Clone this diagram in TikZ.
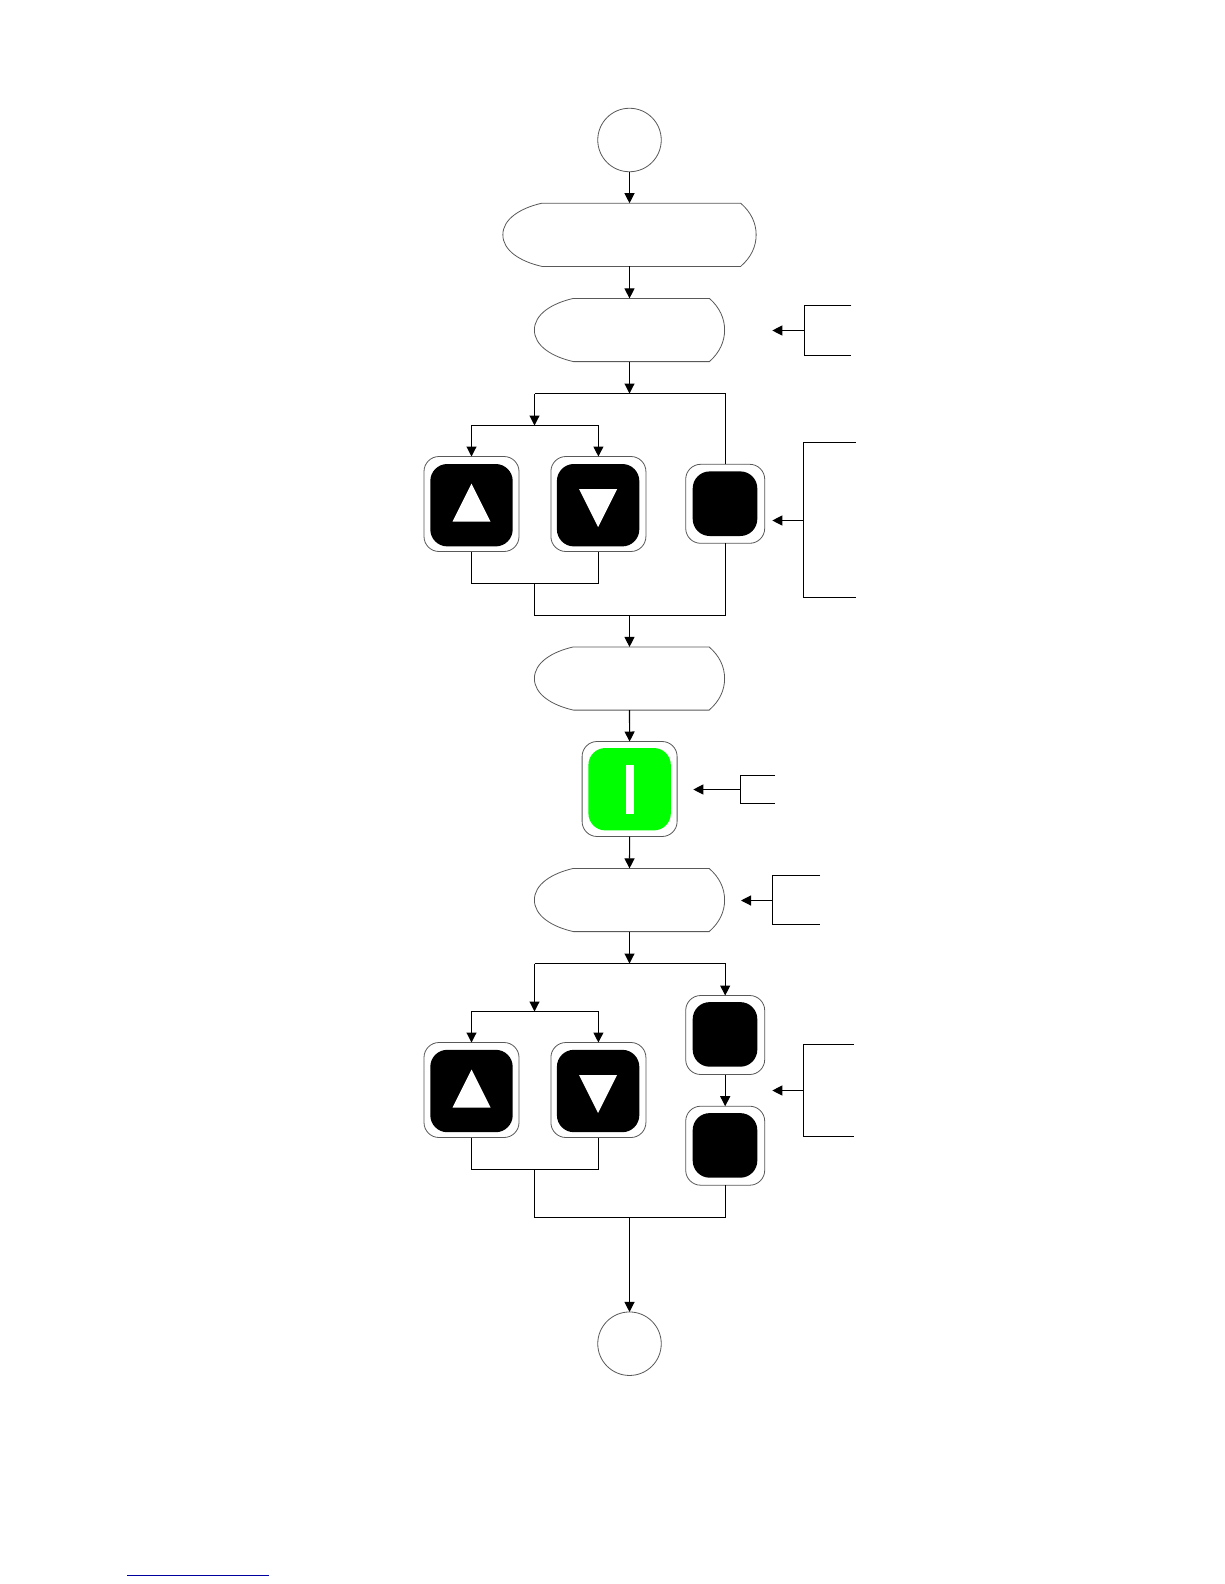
\documentclass[tikz,border=0pt]{standalone}
\usetikzlibrary{arrows.meta}
\tikzset{
  thin outline/.style={draw=black!65,line width=0.8pt},
  termnode/.style={circle,thin outline,fill=white,minimum size=63.5pt,inner sep=0pt,outer sep=0pt},
  dispbox/.style={rectangle,inner sep=0pt,outer sep=0pt,minimum height=63.2pt},
  dispoutline/.style={thin outline,fill=white},
  bigouter/.style={rectangle,rounded corners=15pt,thin outline,fill=white,minimum size=95pt,inner sep=0pt,outer sep=0pt},
  biginner/.style={rectangle,rounded corners=17pt,fill=black,minimum size=82.4pt,inner sep=0pt,outer sep=0pt},
  greeninner/.style={biginner,fill=green!100!black},
  smallouter/.style={rectangle,rounded corners=15pt,thin outline,fill=white,minimum size=79pt,inner sep=0pt,outer sep=0pt},
  smallinner/.style={rectangle,rounded corners=17pt,fill=black,minimum size=64.6pt,inner sep=0pt,outer sep=0pt},
  conn/.style={draw=black,line width=1.1pt},
  flow/.style={conn,-{Triangle[width=10pt,length=10pt]}},
  glyph/.style={fill=white,draw=none}
}
% outline of a display shape over its named box: #1 name, #2 left inset of shoulder, #3 right inset of shoulder
\newcommand{\dispoutlineof}[3]{%
  \path[dispoutline]
    ([xshift=#2pt]#1.north west) -- ([xshift=-#3pt]#1.north east)
    .. controls ([xshift=-5pt,yshift=-9pt]#1.north east) and ([yshift=-20pt]#1.north east) .. (#1.east)
    .. controls ([yshift=20pt]#1.south east) and ([xshift=-5pt,yshift=9pt]#1.south east) .. ([xshift=-#3pt]#1.south east)
    -- ([xshift=#2pt]#1.south west)
    .. controls ([xshift=17pt,yshift=5pt]#1.south west) and ([yshift=16pt]#1.south west) .. (#1.west)
    .. controls ([yshift=-16pt]#1.north west) and ([xshift=17pt,yshift=-5pt]#1.north west) .. ([xshift=#2pt]#1.north west)
    -- cycle;}
\newcommand{\uptri}[1]{\fill[glyph] ([yshift=21.5pt]#1.center) -- ([xshift=19pt,yshift=-16.5pt]#1.center) -- ([xshift=-19pt,yshift=-16.5pt]#1.center) -- cycle;}
\newcommand{\downtri}[1]{\fill[glyph] ([yshift=-22pt]#1.center) -- ([xshift=19pt,yshift=16pt]#1.center) -- ([xshift=-19pt,yshift=16pt]#1.center) -- cycle;}
\begin{document}
\begin{tikzpicture}[x=1pt,y=-1pt]
\useasboundingbox (0,0) rectangle (1224,1584);
\fill[white] (0,0) rectangle (1224,1584);

% terminators
\node[termnode] (start) at (629.5,140) {};
\node[termnode] (stop) at (629.5,1343.7) {};

% display shapes
\node[dispbox,minimum width=253.3pt] (d1) at (629.5,234.8) {};
\node[dispbox,minimum width=190.2pt] (d2) at (629.5,330) {};
\node[dispbox,minimum width=190.2pt] (d3) at (629.5,678.5) {};
\node[dispbox,minimum width=190.2pt] (d4) at (629.5,900) {};
\dispoutlineof{d1}{39}{15.5}
\dispoutlineof{d2}{39}{15.2}
\dispoutlineof{d3}{39}{15.5}
\dispoutlineof{d4}{39}{15.5}

% first key group
\node[bigouter] (up1) at (471.5,504) {};
\node[biginner] (up1i) at (471.5,505.2) {};
\uptri{up1i}
\node[bigouter] (dn1) at (598.4,504) {};
\node[biginner] (dn1i) at (598.1,505.2) {};
\downtri{dn1i}
\node[smallouter] (k1) at (725.2,503.8) {};
\node[smallinner] (k1i) at (725,503.7) {};

% green key
\node[bigouter] (go) at (629.6,789) {};
\node[greeninner] (goi) at (629.6,789.2) {};
\fill[glyph] (626,765) rectangle (634.3,814);

% second key group
\node[bigouter] (up2) at (471.5,1090) {};
\node[biginner] (up2i) at (471.5,1091) {};
\uptri{up2i}
\node[bigouter] (dn2) at (598.4,1090) {};
\node[biginner] (dn2i) at (598.1,1091) {};
\downtri{dn2i}
\node[smallouter] (k2) at (725.2,1035) {};
\node[smallinner] (k2i) at (725,1034.4) {};
\node[smallouter] (k3) at (725.2,1145.7) {};
\node[smallinner] (k3i) at (725,1145.4) {};

% junctions
\coordinate (j1) at (629.5,393.5);
\coordinate (j1l) at (534.5,393.5);
\coordinate (j2) at (534.5,425.5);
\coordinate (m1) at (534.5,583.5);
\coordinate (m2l) at (534.5,615.5);
\coordinate (m2) at (629.5,615.5);
\coordinate (j3) at (629.5,963.5);
\coordinate (j3l) at (534.5,963.5);
\coordinate (j4) at (534.5,1011.5);
\coordinate (m3) at (534.5,1169.5);
\coordinate (m4l) at (534.5,1217.5);
\coordinate (m4) at (629.5,1217.5);

% connectors, top part
\draw[flow] (start.south) -- (d1.north);
\draw[flow] (d1.south) -- (d2.north);
\draw[flow] (d2.south) -- (j1);
\draw[conn] (k1.north) |- (j1l);
\draw[flow] (j1l) -- (j2);
\draw[flow] (j2) -| (up1.north);
\draw[flow] (j2) -| (dn1.north);
\draw[conn] (up1.south) |- (m1) -| (dn1.south);
\draw[conn] (m1) -- (m2l) -| (k1.south);
\draw[flow] (m2) -- (d3.north);
\draw[flow] (d3.south) -- (go.north);
\draw[flow] (go.south) -- (d4.north);

% connectors, bottom part
\draw[flow] (d4.south) -- (j3);
\draw[flow] (j3l) -- (j4);
\draw[flow] (j3l) -| (k2.north);
\draw[flow] (j4) -| (up2.north);
\draw[flow] (j4) -| (dn2.north);
\draw[flow] (k2.south) -- (k3.north);
\draw[conn] (up2.south) |- (m3) -| (dn2.south);
\draw[conn] (m3) -- (m4l) -| (k3.south);
\draw[flow] (m4) -- (stop.north);

% side brackets
\coordinate (b1a) at (851.3,305.5);
\coordinate (b1b) at (804.5,305.5);
\coordinate (b1c) at (804.5,355.5);
\coordinate (b1d) at (851.3,355.5);
\coordinate (b1m) at (804.5,330.5);
\coordinate (b1t) at (772.3,330.5);
\draw[conn] (b1a) -- (b1b) -- (b1c) -- (b1d);
\draw[flow] (b1m) -- (b1t);

\coordinate (b2a) at (855.7,442.5);
\coordinate (b2b) at (803.5,442.5);
\coordinate (b2c) at (803.5,597.5);
\coordinate (b2d) at (855.7,597.5);
\coordinate (b2m) at (803.5,520.5);
\coordinate (b2t) at (772.3,520.5);
\draw[conn] (b2a) -- (b2b) -- (b2c) -- (b2d);
\draw[flow] (b2m) -- (b2t);

\coordinate (b3a) at (775,775.5);
\coordinate (b3b) at (740.5,775.5);
\coordinate (b3c) at (740.5,803.5);
\coordinate (b3d) at (775,803.5);
\coordinate (b3m) at (740.5,789.5);
\coordinate (b3t) at (693.3,789.5);
\draw[conn] (b3a) -- (b3b) -- (b3c) -- (b3d);
\draw[flow] (b3m) -- (b3t);

\coordinate (b4a) at (820,875.5);
\coordinate (b4b) at (772.5,875.5);
\coordinate (b4c) at (772.5,924.5);
\coordinate (b4d) at (820,924.5);
\coordinate (b4m) at (772.5,900.5);
\coordinate (b4t) at (741,900.5);
\draw[conn] (b4a) -- (b4b) -- (b4c) -- (b4d);
\draw[flow] (b4m) -- (b4t);

\coordinate (b5a) at (854,1044.5);
\coordinate (b5b) at (803.5,1044.5);
\coordinate (b5c) at (803.5,1136.5);
\coordinate (b5d) at (854,1136.5);
\coordinate (b5m) at (803.5,1090.5);
\coordinate (b5t) at (772.3,1090.5);
\draw[conn] (b5a) -- (b5b) -- (b5c) -- (b5d);
\draw[flow] (b5m) -- (b5t);

% underline at the page foot
\coordinate (ula) at (127,1575);
\coordinate (ulb) at (269,1575);
\draw[draw={rgb,255:red,0;green,0;blue,160},line width=1pt] (ula) -- (ulb);
\end{tikzpicture}
\end{document}
